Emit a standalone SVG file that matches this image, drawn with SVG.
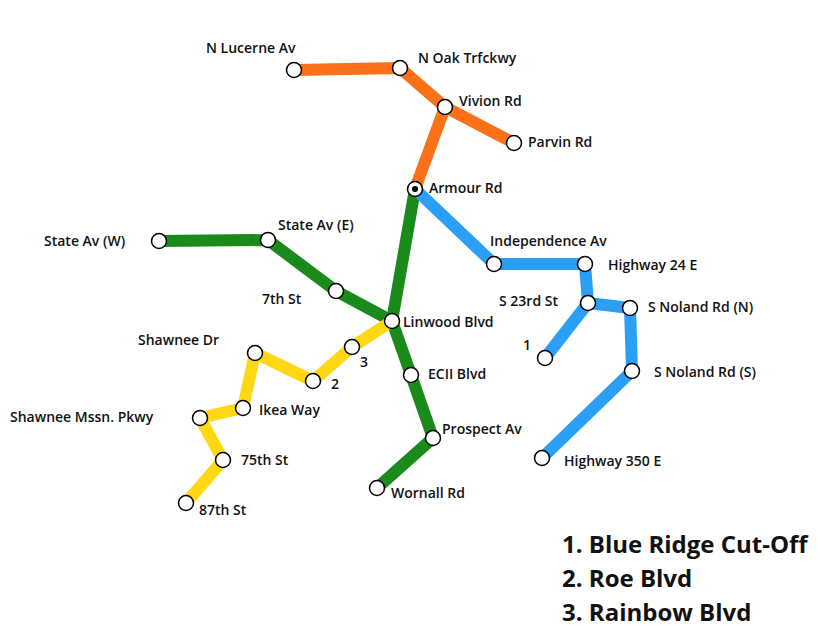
<svg xmlns="http://www.w3.org/2000/svg" width="820" height="637" viewBox="0 0 820 637">
<style>
.l{fill:none;stroke-width:12;stroke-linejoin:round}
.n{fill:#fff;stroke:#000;stroke-width:1.5}
text{font-family:"Open Sans","Liberation Sans",sans-serif;font-size:14px;font-weight:600;fill:#111}
.lg{font-size:24px;font-weight:700}
</style>
<rect width="820" height="637" fill="#fff"/>
<g id="connectors">
<polyline class="l" stroke="#fb7117" points="294,70 400,68 445,107 514,143"/>
<polyline class="l" stroke="#fb7117" points="445,107 415,189"/>
<polyline class="l" stroke="#1a8a1a" points="415,189 392,321 411,375 433,438 377,488"/>
<polyline class="l" stroke="#1a8a1a" points="159,241 268,240 336,291 392,321"/>
<polyline class="l" stroke="#2b9ff5" points="415,189 494,264 585,264 588,303 630,308 632,371 542,458"/>
<polyline class="l" stroke="#2b9ff5" points="588,303 545,358"/>
<polyline class="l" stroke="#ffd712" points="392,321 352,347 313,381 255,353 243,408 200,418 223,460 186,503"/>
</g>
<g id="nodes">
<g id="n-lucerne"><circle class="n" cx="294" cy="70" r="7.5"/><text x="206" y="53">N Lucerne Av</text></g>
<g id="n-oak"><circle class="n" cx="400" cy="68" r="7.5"/><text x="418" y="63">N Oak Trfckwy</text></g>
<g id="n-vivion"><circle class="n" cx="445" cy="107" r="7.5"/><text x="459" y="106">Vivion Rd</text></g>
<g id="n-parvin"><circle class="n" cx="514" cy="143" r="7.5"/><text x="528" y="147">Parvin Rd</text></g>
<g id="n-armour"><circle class="n" cx="415" cy="189" r="7.5"/><circle cx="415" cy="189" r="3" fill="#000"/><text x="429" y="193">Armour Rd</text></g>
<g id="n-statew"><circle class="n" cx="159" cy="241" r="7.5"/><text x="44" y="246">State Av (W)</text></g>
<g id="n-statee"><circle class="n" cx="268" cy="240" r="7.5"/><text x="278" y="230">State Av (E)</text></g>
<g id="n-7th"><circle class="n" cx="336" cy="291" r="7.5"/><text x="262" y="304">7th St</text></g>
<g id="n-linwood"><circle class="n" cx="392" cy="321" r="7.5"/><text x="403" y="327">Linwood Blvd</text></g>
<g id="n-ecii"><circle class="n" cx="411" cy="375" r="7.5"/><text x="428" y="379">ECII Blvd</text></g>
<g id="n-prospect"><circle class="n" cx="433" cy="438" r="7.5"/><text x="442" y="434">Prospect Av</text></g>
<g id="n-wornall"><circle class="n" cx="377" cy="488" r="7.5"/><text x="391" y="498">Wornall Rd</text></g>
<g id="n-indep"><circle class="n" cx="494" cy="264" r="7.5"/><text x="490" y="246">Independence Av</text></g>
<g id="n-hw24"><circle class="n" cx="585" cy="264" r="7.5"/><text x="608" y="270">Highway 24 E</text></g>
<g id="n-23rd"><circle class="n" cx="588" cy="303" r="7.5"/><text x="499" y="306">S 23rd St</text></g>
<g id="n-nolandn"><circle class="n" cx="630" cy="308" r="7.5"/><text x="648" y="312">S Noland Rd  (N)</text></g>
<g id="n-nolands"><circle class="n" cx="632" cy="371" r="7.5"/><text x="654" y="377">S Noland Rd (S)</text></g>
<g id="n-hw350"><circle class="n" cx="542" cy="458" r="7.5"/><text x="564" y="466">Highway 350 E</text></g>
<g id="n-1"><circle class="n" cx="545" cy="358" r="7.5"/><text x="523" y="350">1</text></g>
<g id="n-3"><circle class="n" cx="352" cy="347" r="7.5"/><text x="360" y="367">3</text></g>
<g id="n-2"><circle class="n" cx="313" cy="381" r="7.5"/><text x="331" y="389">2</text></g>
<g id="n-shawnee"><circle class="n" cx="255" cy="353" r="7.5"/><text x="138" y="345">Shawnee Dr</text></g>
<g id="n-ikea"><circle class="n" cx="243" cy="408" r="7.5"/><text x="259" y="415">Ikea Way</text></g>
<g id="n-mssn"><circle class="n" cx="200" cy="418" r="7.5"/><text x="10" y="422">Shawnee Mssn. Pkwy</text></g>
<g id="n-75th"><circle class="n" cx="223" cy="460" r="7.5"/><text x="241" y="465">75th St</text></g>
<g id="n-87th"><circle class="n" cx="186" cy="503" r="7.5"/><text x="199" y="515">87th St</text></g>
</g>
<g id="legend">
<text class="lg" x="562" y="553">1. Blue Ridge Cut-Off</text>
<text class="lg" x="562" y="587">2. Roe Blvd</text>
<text class="lg" x="562" y="621">3. Rainbow Blvd</text>
</g>
</svg>
